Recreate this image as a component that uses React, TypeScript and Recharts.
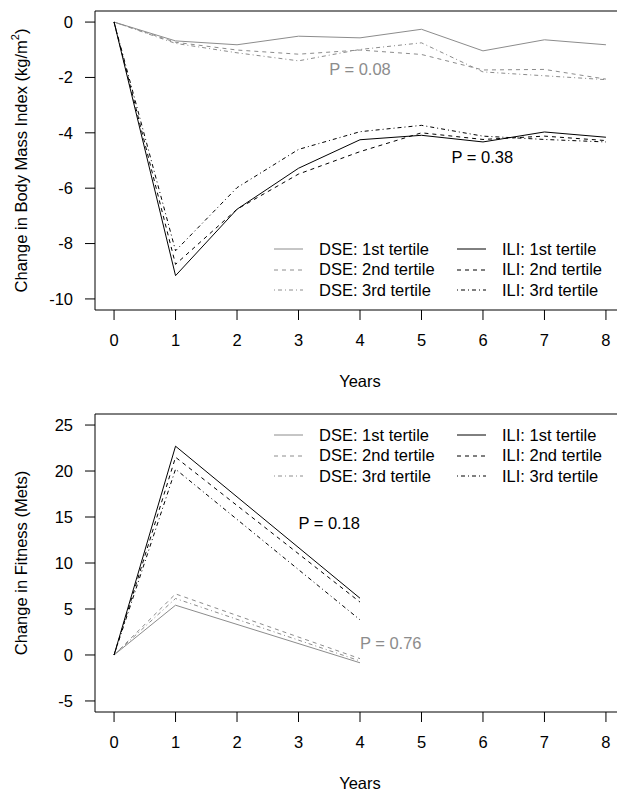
import { LineChart, Line, XAxis, YAxis, ReferenceLine, ReferenceDot, Legend } from "recharts";

// years of follow-up
const years = [0, 1, 2, 3, 4, 5, 6, 7, 8];
const fitnessYears = [0, 1, 4];

// change in BMI (kg/m2)
const bmiDse1 = [0, -0.68, -0.82, -0.51, -0.57, -0.26, -1.04, -0.64, -0.82];
const bmiDse2 = [0, -0.73, -1.01, -1.16, -1.01, -1.17, -1.73, -1.71, -2.06];
const bmiDse3 = [0, -0.77, -1.11, -1.4, -0.99, -0.75, -1.8, -1.94, -2.08];
const bmiIli1 = [0, -9.16, -6.76, -5.28, -4.25, -4.09, -4.33, -3.97, -4.16];
const bmiIli2 = [0, -8.75, -6.76, -5.49, -4.68, -4.0, -4.24, -4.12, -4.28];
const bmiIli3 = [0, -8.26, -5.98, -4.6, -3.96, -3.73, -4.12, -4.24, -4.33];

// change in fitness (METs)
const fitDse1 = [0, 5.41, -0.85];
const fitDse2 = [0, 6.64, -0.4];
const fitDse3 = [0, 6.14, -0.65];
const fitIli1 = [0, 22.7, 6.17];
const fitIli2 = [0, 21.5, 5.75];
const fitIli3 = [0, 20.2, 3.82];

const yearTicks = [0, 1, 2, 3, 4, 5, 6, 7, 8];
const bmiTicks = [0, -2, -4, -6, -8, -10];
const fitnessTicks = [25, 20, 15, 10, 5, 0, -5];

const dseLabels = ["DSE: 1st tertile", "DSE: 2nd tertile", "DSE: 3rd tertile"];
const iliLabels = ["ILI: 1st tertile", "ILI: 2nd tertile", "ILI: 3rd tertile"];

const bmiRows = years.map((year, i) => ({
  year,
  dse1: bmiDse1[i],
  dse2: bmiDse2[i],
  dse3: bmiDse3[i],
  ili1: bmiIli1[i],
  ili2: bmiIli2[i],
  ili3: bmiIli3[i],
}));

const fitnessRows = fitnessYears.map((year, i) => ({
  year,
  dse1: fitDse1[i],
  dse2: fitDse2[i],
  dse3: fitDse3[i],
  ili1: fitIli1[i],
  ili2: fitIli2[i],
  ili3: fitIli3[i],
}));

const GRAY = "#8c8c8c";
const FONT = "'Liberation Sans', Arial, sans-serif";
const FS = 16.5;
const DASHES = [undefined, "4 4", "1 3 4 3"];

const series = [
  { key: "dse1", color: GRAY, dash: DASHES[0] },
  { key: "dse2", color: GRAY, dash: DASHES[1] },
  { key: "dse3", color: GRAY, dash: DASHES[2] },
  { key: "ili1", color: "#000", dash: DASHES[0] },
  { key: "ili2", color: "#000", dash: DASHES[1] },
  { key: "ili3", color: "#000", dash: DASHES[2] },
];

const CHART_W = 640;
const CHART_H = 396;
const Y_AXIS_W = 95;
const PLOT_W = 530;

function LegendItem({ label, color, dash }: { label: string; color: string; dash?: string }) {
  return (
    <div style={{ display: "flex", alignItems: "center", height: 20.5 }}>
      <svg width={45} height={20} style={{ flex: "none" }}>
        <line x1={0} x2={29} y1={10} y2={10} stroke={color} strokeWidth={1} strokeDasharray={dash} />
      </svg>
      <span style={{ whiteSpace: "nowrap" }}>{label}</span>
    </div>
  );
}

function TertileLegend() {
  return (
    <div style={{ display: "flex", fontFamily: FONT, fontSize: FS, color: "#000", lineHeight: "20.5px" }}>
      <div style={{ width: 183 }}>
        {dseLabels.map((l, i) => (
          <LegendItem key={l} label={l} color={GRAY} dash={DASHES[i]} />
        ))}
      </div>
      <div>
        {iliLabels.map((l, i) => (
          <LegendItem key={l} label={l} color="#000" dash={DASHES[i]} />
        ))}
      </div>
    </div>
  );
}

function yTitle(title: React.ReactNode, cy: number) {
  return () => (
    <text
      x={21}
      y={cy}
      transform={`rotate(-90, 21, ${cy})`}
      textAnchor="middle"
      dominantBaseline="central"
      fontSize={FS}
      fontFamily={FONT}
      fill="#000"
    >
      {title}
    </text>
  );
}

function xTitle(cy: number) {
  return () => (
    <text
      x={Y_AXIS_W + PLOT_W / 2}
      y={cy}
      textAnchor="middle"
      dominantBaseline="central"
      fontSize={FS}
      fontFamily={FONT}
      fill="#000"
    >
      Years
    </text>
  );
}

function pLabel(text: string, color: string) {
  return { value: text, position: "center" as const, fill: color, fontSize: FS, fontFamily: FONT };
}

function Panel({
  rows,
  top,
  xAxisH,
  domain,
  ticks,
  title,
  legendTop,
  notes,
}: {
  rows: any[];
  top: number;
  xAxisH: number;
  domain: [number, number];
  ticks: number[];
  title: React.ReactNode;
  legendTop: number;
  notes: { x: number; y: number; text: string; color: string }[];
}) {
  const plotH = CHART_H - top - xAxisH;
  return (
    <LineChart
      width={CHART_W}
      height={CHART_H}
      data={rows}
      margin={{ top, right: CHART_W - Y_AXIS_W - PLOT_W, left: 0, bottom: 0 }}
      style={{ fontFamily: FONT }}
    >
      <XAxis
        dataKey="year"
        type="number"
        domain={[-0.31, 8.31]}
        ticks={yearTicks}
        allowDataOverflow
        height={xAxisH}
        tickSize={10}
        tickMargin={14}
        stroke="#000"
        tick={{ fill: "#000", fontSize: FS }}
        label={{ content: xTitle(top + plotH + 71) }}
      />
      <YAxis
        type="number"
        domain={domain}
        ticks={ticks}
        allowDataOverflow
        width={Y_AXIS_W}
        tickSize={10}
        tickMargin={12}
        stroke="#000"
        tick={{ fill: "#000", fontSize: FS }}
        label={{ content: yTitle(title, top + plotH / 2) }}
      />
      <ReferenceLine y={domain[1]} stroke="#000" strokeWidth={1} />
      {series.map((s) => (
        <Line
          key={s.key}
          dataKey={s.key}
          type="linear"
          stroke={s.color}
          strokeWidth={1}
          strokeDasharray={s.dash}
          dot={false}
          activeDot={false}
          isAnimationActive={false}
        />
      ))}
      {notes.map((n) => (
        <ReferenceDot
          key={n.text}
          x={n.x}
          y={n.y}
          r={0}
          fill="none"
          stroke="none"
          label={pLabel(n.text, n.color)}
        />
      ))}
      <Legend
        layout="vertical"
        align="center"
        verticalAlign="middle"
        content={() => <TertileLegend />}
        wrapperStyle={{ left: 274, top: legendTop, width: 340 }}
      />
    </LineChart>
  );
}

export default function App() {
  return (
    <div style={{ position: "absolute", left: 0, top: 0, width: 617, height: 792, overflow: "hidden", background: "#fff" }}>
      <Panel
        rows={bmiRows}
        top={11}
        xAxisH={86}
        domain={[-10.4, 0.4]}
        ticks={bmiTicks}
        title={
          <>
            Change in Body Mass Index (kg/m
            <tspan dy={-6} fontSize={11}>2</tspan>
            <tspan dy={6}>)</tspan>
          </>
        }
        legendTop={238.75}
        notes={[
          { x: 4.0, y: -1.69, text: "P = 0.08", color: GRAY },
          { x: 5.99, y: -4.87, text: "P = 0.38", color: "#000" },
        ]}
      />
      <Panel
        rows={fitnessRows}
        top={18}
        xAxisH={80}
        domain={[-6.2, 26.2]}
        ticks={fitnessTicks}
        title="Change in Fitness (Mets)"
        legendTop={28.75}
        notes={[
          { x: 3.5, y: 14.35, text: "P = 0.18", color: "#000" },
          { x: 4.5, y: 1.3, text: "P = 0.76", color: GRAY },
        ]}
      />
    </div>
  );
}
